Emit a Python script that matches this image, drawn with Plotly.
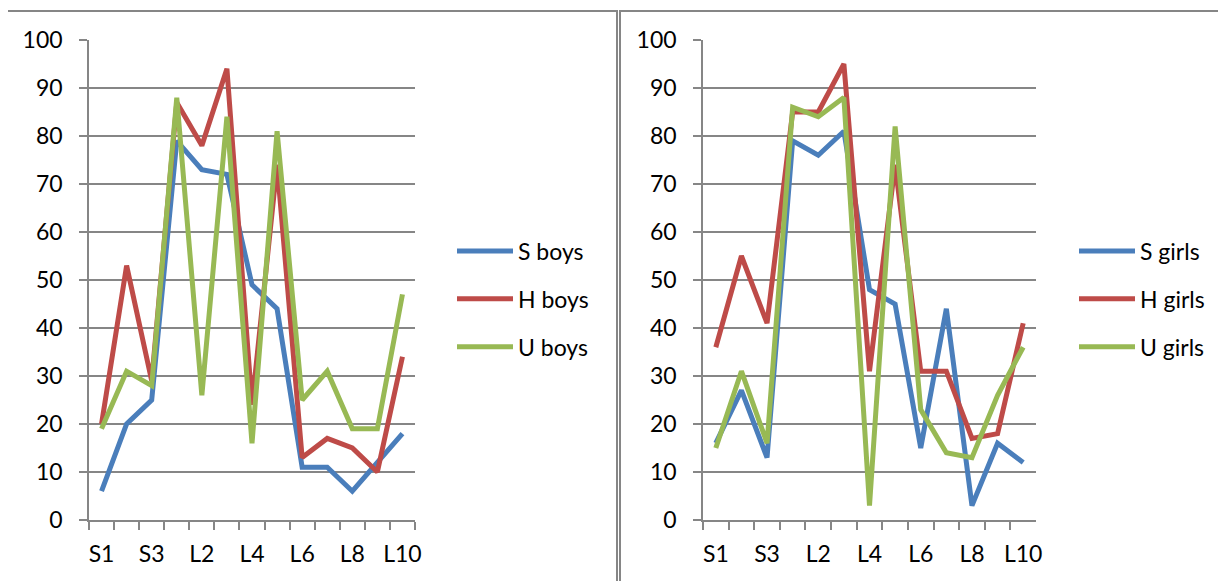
import plotly.graph_objects as go

categories = ["S1", "S2", "S3", "L1", "L2", "L3", "L4", "L5", "L6", "L7", "L8", "L9", "L10"]
tick_labels = ["S1", "", "S3", "", "L2", "", "L4", "", "L6", "", "L8", "", "L10"]
y_ticks = [0, 10, 20, 30, 40, 50, 60, 70, 80, 90, 100]

s_boys = [6, 20, 25, 79, 73, 72, 49, 44, 11, 11, 6, 12, 18]
h_boys = [20, 53, 29, 87, 78, 94, 24, 74, 13, 17, 15, 10, 34]
u_boys = [19, 31, 28, 88, 26, 84, 16, 81, 25, 31, 19, 19, 47]

s_girls = [16, 27, 13, 79, 76, 81, 48, 45, 15, 44, 3, 16, 12]
h_girls = [36, 55, 41, 85, 85, 95, 31, 74, 31, 31, 17, 18, 41]
u_girls = [15, 31, 16, 86, 84, 88, 3, 82, 23, 14, 13, 26, 36]

W, H = 1226, 581
OFF = 8  # page body margin
BLUE, RED, GREEN = "#4A7EBB", "#BE4B48", "#98B954"
GRAY = "#868686"
FONT = "Lato"
FS = 23

fig = go.Figure()

panels = [
    ("x", "y", "legend", [("S boys", s_boys, BLUE), ("H boys", h_boys, RED), ("U boys", u_boys, GREEN)]),
    ("x2", "y2", "legend2", [("S girls", s_girls, BLUE), ("H girls", h_girls, RED), ("U girls", u_girls, GREEN)]),
]
for xa, ya, lg, series in panels:
    for name, vals, col in series:
        fig.add_trace(go.Scatter(
            x=categories, y=vals, name=name, mode="lines",
            line=dict(color=col, width=5),
            xaxis=xa, yaxis=ya, legend=lg, legendgroup=name,
        ))

def px_x(p):
    return (p - OFF) / W

def px_y(p):
    return 1 - (p - OFF) / H

xdom1 = [px_x(89), px_x(415)]
xdom2 = [px_x(703), px_x(1036)]
ydom = [px_y(520), px_y(40)]

xcommon = dict(
    type="category", categoryorder="array", categoryarray=categories,
    range=[-0.5, len(categories) - 0.5],
    tickmode="array", tickvals=categories, ticktext=tick_labels, tickangle=0,
    tickson="boundaries", ticks="outside", ticklen=8, tickwidth=1.5, tickcolor=GRAY,
    showline=True, linecolor=GRAY, linewidth=1.5, showgrid=False, zeroline=False,
    tickfont=dict(family=FONT, size=FS, color="black"),
    ticklabelstandoff=13, automargin=False, fixedrange=True,
)
ycommon = dict(
    range=[0, 100], tickmode="array", tickvals=y_ticks,
    ticks="outside", ticklen=8, tickwidth=1.5, tickcolor=GRAY,
    showline=True, linecolor=GRAY, linewidth=1.5,
    showgrid=True, gridcolor=GRAY, gridwidth=1.5, zeroline=False,
    tickfont=dict(family=FONT, size=FS, color="black"),
    ticklabelstandoff=12, domain=ydom, automargin=False, fixedrange=True,
)

legcommon = dict(
    font=dict(family=FONT, size=FS, color="black"),
    itemwidth=56, tracegroupgap=15, traceorder="grouped",
    xanchor="left", yanchor="middle", bgcolor="rgba(0,0,0,0)",
)

fig.update_layout(
    width=W, height=H, margin=dict(l=0, r=0, t=0, b=0, autoexpand=False),
    paper_bgcolor="white", plot_bgcolor="white",
    font=dict(family=FONT, size=FS, color="black"),
    xaxis=dict(domain=xdom1, anchor="y", **xcommon),
    yaxis=dict(anchor="x", **ycommon),
    xaxis2=dict(domain=xdom2, anchor="y2", **xcommon),
    yaxis2=dict(anchor="x2", **ycommon),
    legend=dict(x=px_x(452), y=px_y(299), **legcommon),
    legend2=dict(x=px_x(1074), y=px_y(299), **legcommon),
    showlegend=True,
    shapes=[
        dict(type="rect", xref="paper", yref="paper",
             x0=px_x(6), x1=px_x(617), y0=-0.05, y1=px_y(11),
             line=dict(color=GRAY, width=2), fillcolor="rgba(0,0,0,0)", layer="below"),
        dict(type="rect", xref="paper", yref="paper",
             x0=px_x(620), x1=1.05, y0=-0.05, y1=px_y(11),
             line=dict(color=GRAY, width=2), fillcolor="rgba(0,0,0,0)", layer="below"),
    ],
)

fig.write_html("out.html")
